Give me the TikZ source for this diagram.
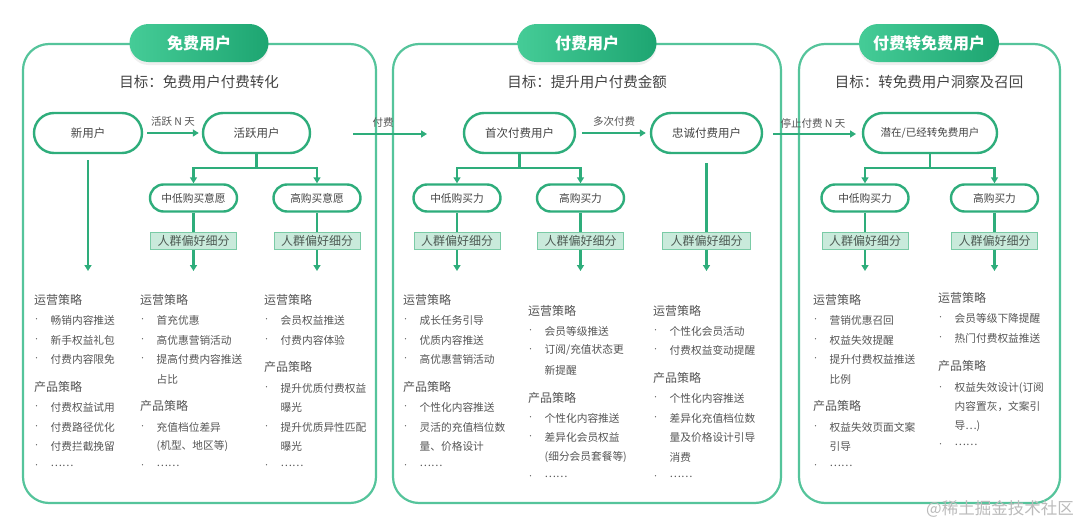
\documentclass[tikz,border=0pt]{standalone}
\usepackage{fontspec}
\setmainfont{Noto Sans CJK SC}
\usetikzlibrary{arrows.meta,shadows}
\definecolor{pan}{HTML}{55C49B}
\definecolor{ln}{HTML}{2EAD7B}
\definecolor{pilll}{HTML}{45CC97}
\definecolor{pillr}{HTML}{1DA571}
\definecolor{tagfill}{HTML}{C9EADB}
\definecolor{tagline}{HTML}{7ACBA6}
\definecolor{tagtxt}{HTML}{4D5A53}
\definecolor{txt}{HTML}{555555}
\definecolor{ttl}{HTML}{444444}
\definecolor{wm}{HTML}{BBBBBB}
\newcommand\Hd[3]{\node[hd] at (#1,#2) {#3};}
\newcommand\Bu[3]{\node[dotm] at (#1+2.5,#2) {•};\node[itm] at (#1+16.5,#2) {#3};}
\newcommand\Co[3]{\node[itm] at (#1+16.5,#2) {#3};}
\begin{document}
\begin{tikzpicture}[x=1pt,y=-1pt,
  panel/.style={draw=pan, line width=2.2pt, rounded corners=26pt},
  pill/.style={left color=pilll, right color=pillr, rounded corners=19pt, minimum height=38pt,
    minimum width=139pt, inner sep=0, text=white, font=\fontsize{16}{16}\selectfont\bfseries,
    drop shadow={opacity=0.12, shadow xshift=0pt, shadow yshift=-3pt}},
  goal/.style={inner sep=0, text=ttl, font=\fontsize{14.5}{14.5}\selectfont},
  stad/.style={draw=ln, line width=2.4pt, fill=white, rounded corners=20pt, minimum height=40pt,
    inner sep=0, text=ttl, font=\fontsize{11.5}{11.5}\selectfont},
  kid/.style={draw=ln, line width=2.4pt, fill=white, rounded corners=13.5pt, minimum height=27pt,
    minimum width=87pt, inner sep=0, text=ttl, font=\fontsize{10.7}{10.7}\selectfont},
  tagbox/.style={draw=tagline, line width=0.8pt, fill=tagfill, minimum height=17pt,
    minimum width=86pt, inner sep=0, text=tagtxt, font=\fontsize{12}{12}\selectfont},
  conn/.style={draw=ln, line width=2.2pt},
  arr/.style={conn, -{Triangle[length=6pt,width=7pt]}},
  elab/.style={inner sep=0, text=txt, font=\fontsize{10.5}{10.5}\selectfont},
  hd/.style={anchor=west, inner sep=0, text=txt, font=\fontsize{12}{12}\selectfont},
  itm/.style={anchor=west, inner sep=0, text=txt, font=\fontsize{10.7}{10.7}\selectfont},
  dotm/.style={inner sep=0, text=txt, font=\fontsize{6}{6}\selectfont},
]
\useasboundingbox (0,0) rectangle (1080,525);
\fill[white] (0,0) rectangle (1080,525);

% panels
\draw[panel] (23,44) rectangle (376,503);
\draw[panel] (393,44) rectangle (781,503);
\draw[panel] (799,44) rectangle (1060,503);

% headers
\node[pill] (h1) at (199,43) {免费用户};
\node[pill] (h2) at (587,43) {付费用户};
\node[pill, minimum width=140pt] (h3) at (929,43) {付费转免费用户};

\node[goal] (g1) at (199,82) {目标：免费用户付费转化};
\node[goal] (g2) at (587,82) {目标：提升用户付费金额};
\node[goal] (g3) at (929,82) {目标：转免费用户洞察及召回};

% main nodes
\node[stad, minimum width=108pt] (new) at (88,133) {新用户};
\node[stad, minimum width=107pt] (act) at (256.5,133) {活跃用户};
\node[stad, minimum width=111pt] (first) at (519.5,133) {首次付费用户};
\node[stad, minimum width=111pt] (loyal) at (706.5,133) {忠诚付费用户};
\node[stad, minimum width=134pt, font=\fontsize{10.5}{10.5}\selectfont] (lost) at (930,133) {潜在/已经转免费用户};

% children
\node[kid] (a1) at (193.5,198) {中低购买意愿};
\node[kid] (a2) at (317,198) {高购买意愿};
\node[kid] (b1) at (457,198) {中低购买力};
\node[kid] (b2) at (580.5,198) {高购买力};
\node[kid] (c1) at (865,198) {中低购买力};
\node[kid] (c2) at (994.5,198) {高购买力};

% helper coordinates
\coordinate (bot) at (0,271);
\coordinate (br1) at (256.5,168);
\coordinate (br2) at (519.5,168);
\coordinate (br3) at (930,168);
\coordinate (newd) at (88,160);
\coordinate (loyd) at (706.5,163);
\coordinate (payS) at (353,134);
\coordinate (payE) at (427,134);
\coordinate (stopS) at (773,134);
\coordinate (stopE) at (856,134);

% horizontal connectors
\draw[arr] ([xshift=4pt]new.east) -- node[elab, above=6pt] {活跃 N 天} ([xshift=-3pt]act.west);
\draw[arr] ([xshift=6pt]first.east) -- node[elab, above=6pt] {多次付费} ([xshift=-4pt]loyal.west);
\draw[arr] (payS) -- (payE);
\node[elab] (paylab) at (383,123) {付费};
\draw[arr] (stopS) -- (stopE);
\node[elab] (stoplab) at (813,123) {停止付费 N 天};

% branches
\foreach \p/\b/\l/\r in {act/br1/a1/a2, first/br2/b1/b2, lost/br3/c1/c2}{
  \draw[conn] (\p.south) -- (\b);
  \draw[arr] (\b) -| (\l.north);
  \draw[arr] (\b) -| (\r.north);
}

% vertical arrows down to lists
\draw[arr] (newd) -- (newd |- bot);
\draw[arr] (loyd) -- (loyd |- bot);
\foreach \k in {a1,a2,b1,b2,c1,c2}{
  \draw[arr] (\k.south) -- (\k.south |- bot);
}

% tags
\node[tagbox] (ta1) at (193.5,241) {人群偏好细分};
\node[tagbox] (ta2) at (317,241) {人群偏好细分};
\node[tagbox] (tb1) at (457,241) {人群偏好细分};
\node[tagbox] (tb2) at (580.5,241) {人群偏好细分};
\node[tagbox, minimum width=88pt] (tl) at (706.5,241) {人群偏好细分};
\node[tagbox] (tc1) at (865,241) {人群偏好细分};
\node[tagbox] (tc2) at (994.5,241) {人群偏好细分};

% lists: panel 1
\Hd{34}{300}{运营策略}
\Bu{34}{320}{畅销内容推送}
\Bu{34}{340}{新手权益礼包}
\Bu{34}{359}{付费内容限免}
\Hd{34}{387}{产品策略}
\Bu{34}{407}{付费权益试用}
\Bu{34}{427}{付费路径优化}
\Bu{34}{446}{付费拦截挽留}
\Bu{34}{466}{……}

\Hd{140}{300}{运营策略}
\Bu{140}{320}{首充优惠}
\Bu{140}{340}{高优惠营销活动}
\Bu{140}{359}{提高付费内容推送}
\Co{140}{379}{占比}
\Hd{140}{406}{产品策略}
\Bu{140}{427}{充值档位差异}
\Co{140}{446}{(机型、地区等)}
\Bu{140}{466}{……}

\Hd{264}{300}{运营策略}
\Bu{264}{320}{会员权益推送}
\Bu{264}{340}{付费内容体验}
\Hd{264}{367}{产品策略}
\Bu{264}{388}{提升优质付费权益}
\Co{264}{407}{曝光}
\Bu{264}{427}{提升优质异性匹配}
\Co{264}{446}{曝光}
\Bu{264}{466}{……}

% panel 2
\Hd{403}{300}{运营策略}
\Bu{403}{320}{成长任务引导}
\Bu{403}{340}{优质内容推送}
\Bu{403}{359}{高优惠营销活动}
\Hd{403}{387}{产品策略}
\Bu{403}{407}{个性化内容推送}
\Bu{403}{427}{灵活的充值档位数}
\Co{403}{446}{量、价格设计}
\Bu{403}{466}{……}

\Hd{528}{311}{运营策略}
\Bu{528}{331}{会员等级推送}
\Bu{528}{350}{订阅/充值状态更}
\Co{528}{370}{新提醒}
\Hd{528}{398}{产品策略}
\Bu{528}{418}{个性化内容推送}
\Bu{528}{437}{差异化会员权益}
\Co{528}{457}{(细分会员套餐等)}
\Bu{528}{477}{……}

\Hd{653}{311}{运营策略}
\Bu{653}{331}{个性化会员活动}
\Bu{653}{350}{付费权益变动提醒}
\Hd{653}{378}{产品策略}
\Bu{653}{398}{个性化内容推送}
\Bu{653}{418}{差异化充值档位数}
\Co{653}{437}{量及价格设计引导}
\Co{653}{457}{消费}
\Bu{653}{477}{……}

% panel 3
\Hd{813}{300}{运营策略}
\Bu{813}{320}{营销优惠召回}
\Bu{813}{340}{权益失效提醒}
\Bu{813}{359}{提升付费权益推送}
\Co{813}{379}{比例}
\Hd{813}{406}{产品策略}
\Bu{813}{427}{权益失效页面文案}
\Co{813}{446}{引导}
\Bu{813}{466}{……}

\Hd{938}{298}{运营策略}
\Bu{938}{318}{会员等级下降提醒}
\Bu{938}{338}{热门付费权益推送}
\Hd{938}{366}{产品策略}
\Bu{938}{388}{权益失效设计(订阅}
\Co{938}{407}{内容置灰，文案引}
\Co{938}{426}{导…)}
\Bu{938}{445}{……}

% watermark
\node[inner sep=0, text=wm, font=\fontsize{16.5}{16.5}\selectfont, anchor=east] (wmk) at (1074,509) {@稀土掘金技术社区};
\end{tikzpicture}
\end{document}
